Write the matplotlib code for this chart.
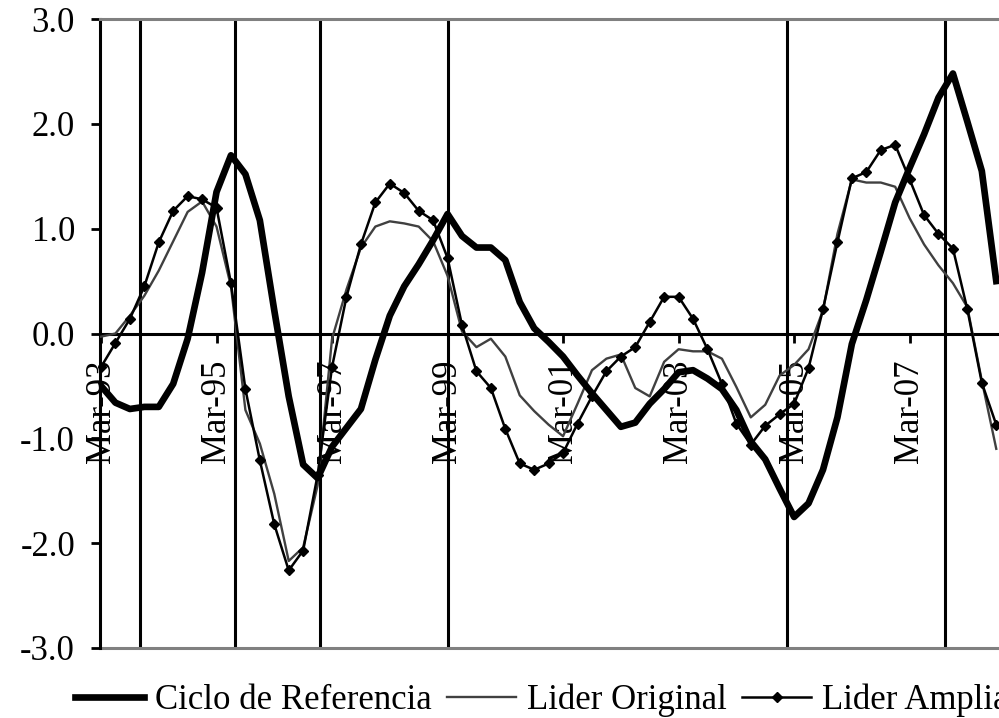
import matplotlib
matplotlib.use('Agg')
import matplotlib.pyplot as plt

plt.rcParams['font.family'] = ['Liberation Serif', 'DejaVu Serif']

# quarterly series, first value = Mar-93
ciclo = [-0.50, -0.66, -0.72, -0.70, -0.70, -0.48, -0.05, 0.58, 1.35, 1.70,
         1.52, 1.08, 0.22, -0.60, -1.25, -1.38, -1.08, -0.90, -0.72, -0.25,
         0.17, 0.45, 0.66, 0.89, 1.14, 0.93, 0.82, 0.82, 0.70, 0.30,
         0.05, -0.08, -0.22, -0.40, -0.57, -0.73, -0.89, -0.85, -0.67, -0.53,
         -0.37, -0.35, -0.43, -0.53, -0.73, -1.03, -1.20, -1.48, -1.75, -1.62,
         -1.30, -0.80, -0.10, 0.32, 0.78, 1.25, 1.58, 1.90, 2.25, 2.48,
         2.02, 1.55, 0.50]
lider_original = [-0.03, 0.00, 0.17, 0.36, 0.60, 0.88, 1.16, 1.26, 1.02, 0.45,
                  -0.73, -1.05, -1.53, -2.17, -2.04, -1.45, -0.05, 0.42, 0.82, 1.02,
                  1.07, 1.05, 1.02, 0.88, 0.55, 0.02, -0.13, -0.05, -0.22, -0.59,
                  -0.74, -0.87, -0.98, -0.67, -0.35, -0.24, -0.20, -0.52, -0.60, -0.27,
                  -0.15, -0.17, -0.17, -0.24, -0.51, -0.80, -0.68, -0.40, -0.30, -0.15,
                  0.22, 0.95, 1.47, 1.44, 1.44, 1.40, 1.10, 0.85, 0.65, 0.48,
                  0.25, -0.45, -1.10]
lider_ampliado = [-0.32, -0.09, 0.14, 0.45, 0.87, 1.17, 1.31, 1.28, 1.20, 0.48,
                  -0.53, -1.21, -1.82, -2.26, -2.07, -1.35, -0.32, 0.35, 0.85, 1.25,
                  1.43, 1.34, 1.17, 1.08, 0.72, 0.08, -0.36, -0.52, -0.91, -1.24,
                  -1.30, -1.24, -1.14, -0.86, -0.60, -0.36, -0.22, -0.13, 0.11, 0.35,
                  0.35, 0.14, -0.15, -0.48, -0.86, -1.06, -0.88, -0.77, -0.67, -0.33,
                  0.23, 0.87, 1.48, 1.54, 1.75, 1.80, 1.47, 1.13, 0.95, 0.81,
                  0.23, -0.47, -0.87]
# turning point markers (in quarter index units)
turning_points = [2.7, 9.3, 15.2, 24.0, 47.5, 58.45]

months = ['Mar', 'Jun', 'Sep', 'Dec']
quarters = [f"{months[q % 4]}-{(93 + q // 4) % 100:02d}" for q in range(len(ciclo))]
x = list(range(len(quarters)))
y_ticks = [-3, -2, -1, 0, 1, 2, 3]

fig = plt.figure(figsize=(9.99, 7.18), dpi=100)
ax = fig.add_axes([100 / 999, 1 - 648 / 718, 899 / 999, 629 / 718])
ax.set_xlim(-0.07, 62.19)
ax.set_ylim(-3, 3)

for tp in turning_points:
    ax.axvline(tp, color='black', lw=2.2, zorder=1)

l1, = ax.plot(x, ciclo, color='black', lw=4.8, zorder=4, label='Ciclo de Referencia')
l2, = ax.plot(x, lider_original, color='#404040', lw=1.7, zorder=3, label='Lider Original')
l3, = ax.plot(x, lider_ampliado, color='black', lw=1.8, marker='D', markersize=4.8,
              zorder=5, label='Lider Ampliado')

# frame: gray top/bottom, black value axis, category axis at zero
ax.spines['right'].set_visible(False)
ax.spines['top'].set_color('#808080')
ax.spines['top'].set_linewidth(2.2)
ax.spines['left'].set_linewidth(2.2)
ax.spines['bottom'].set_position(('data', 0))
ax.spines['bottom'].set_linewidth(2.2)
ax.axhline(-3, color='#808080', lw=2.2, clip_on=False, zorder=1)

ax.set_xticks(x[::8])
ax.set_xticklabels(quarters[::8])
ax.tick_params(axis='x', direction='out', length=6.5, width=2, pad=12,
               labelrotation=90, labelsize=25)
ax.set_yticks(y_ticks)
ax.set_yticklabels([f"{v:.1f}" for v in y_ticks])
ax.tick_params(axis='y', direction='out', length=6.5, width=2, pad=11.5, labelsize=25)

fig.legend(handles=[l1, l2, l3], loc='center left', bbox_to_anchor=(75 / 999, 1 - 700 / 718),
           ncol=3, frameon=False, borderpad=0, borderaxespad=0, handlelength=2.0,
           handletextpad=0.31, columnspacing=0.43, fontsize=25)

fig.savefig('out.png', dpi=100)
